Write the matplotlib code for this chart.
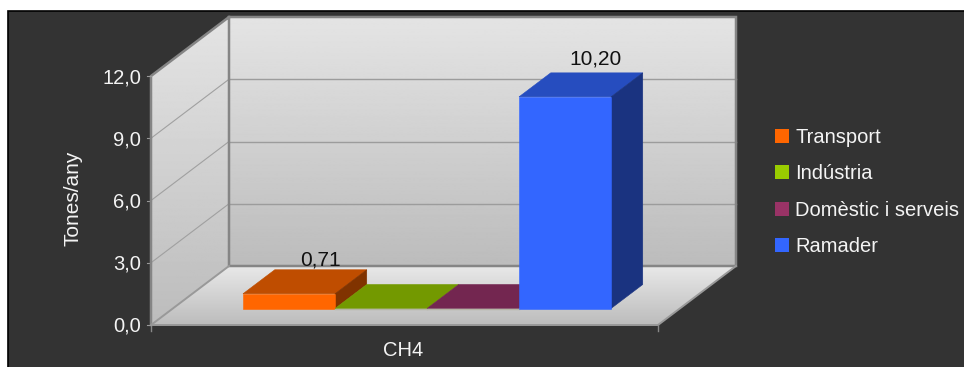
from matplotlib import pyplot as plt
from matplotlib.patches import Polygon, Rectangle, Patch
import numpy as np

plt.rcParams['font.family'] = ['Liberation Sans', 'DejaVu Sans']

categories = ['Transport', 'Indústria', 'Domèstic i serveis', 'Ramader']
values = [0.71, 0.0, 0.0, 10.20]
value_labels = ['0,71', None, None, '10,20']
y_ticks = [0, 3, 6, 9, 12]
y_tick_labels = ['0,0', '3,0', '6,0', '9,0', '12,0']
front_colors = ['#ff6600', '#99cc00', '#993366', '#3366ff']
top_colors = ['#bf4d00', '#739900', '#732650', '#264dbf']
side_colors = ['#803300', '#4d6600', '#4d1a33', '#1a3380']

# fake 3d: depth d goes 0 (front) to 1 (back wall)
W, H = 964, 367
SLOT = 92.0
UNIT = 20.75
X0 = 221.2
Y0 = 325.0
DX = 78 / SLOT
DY = 59 / UNIT
x_left = (151 - X0) / SLOT
x_right = (658 - X0) / SLOT
bar_d0 = 16.5 / 59
bar_d1 = 40.5 / 59
TEXT = '#f4f4f4'


def proj(x, v, d):
    return (x + d * DX, v + d * DY)


def gradient(ax, pts, top, bottom, z):
    pts = np.array(pts)
    grad = np.linspace(top, bottom, 256).reshape(-1, 1)
    ext = [pts[:, 0].min(), pts[:, 0].max(), pts[:, 1].min(), pts[:, 1].max()]
    im = ax.imshow(grad, cmap='gray', vmin=0, vmax=255, extent=ext, aspect='auto', zorder=z)
    clip = Polygon(pts, closed=True, transform=ax.transData, fc='none', ec='none')
    ax.add_patch(clip)
    im.set_clip_path(clip)


fig = plt.figure(figsize=(W / 100, H / 100), dpi=100, facecolor='white')
ax = fig.add_axes([0, 0, 1, 1])
ax.axis('off')

xlim = (-X0 / SLOT, (W - X0) / SLOT)
ylim = (-(H - Y0) / UNIT, Y0 / UNIT)

# dark panel, positions in figure fractions
fig.patches.append(Rectangle((8 / W, -0.05), (W + 20) / W, (H - 11) / H + 0.05, transform=fig.transFigure,
                             fc='#333333', ec='black', lw=1.2, zorder=-1))

# walls and floor
back = [proj(x_left, 0, 1), proj(x_right, 0, 1), proj(x_right, 12, 1), proj(x_left, 12, 1)]
left = [proj(x_left, 0, 0), proj(x_left, 0, 1), proj(x_left, 12, 1), proj(x_left, 12, 0)]
floor = [proj(x_left, 0, 0), proj(x_right, 0, 0), proj(x_right, 0, 1), proj(x_left, 0, 1)]
gradient(ax, back, 228, 188, 1)
gradient(ax, left, 228, 188, 1)
gradient(ax, floor, 232, 188, 1)

# grid
for t in y_ticks[1:-1]:
    ax.plot(*zip(proj(x_left, t, 0), proj(x_left, t, 1)), color='#a0a0a0', lw=0.8, zorder=2)
    ax.plot(*zip(proj(x_left, t, 1), proj(x_right, t, 1)), color='#9c9c9c', lw=1.0, zorder=2)
    ax.plot([x_left - 4 / SLOT, x_left], [t, t], color='#999999', lw=0.8, zorder=2)

# frame
edge = '#858585'
x, y = zip(proj(x_left, 0, 0), proj(x_left, 12, 0), proj(x_left, 12, 1), proj(x_right, 12, 1),
           proj(x_right, 0, 1), proj(x_left, 0, 1), proj(x_left, 12, 1))
ax.plot(x, y, color=edge, lw=1.8, zorder=3, solid_joinstyle='miter')
x, y = zip(proj(x_left, 0, 1), proj(x_left, 0, 0), proj(x_right, 0, 0), proj(x_right, 0, 1))
ax.plot(x, y, color='#999999', lw=1.4, zorder=3)
for xt in (x_left, x_right):
    ax.plot([xt, xt], [0, -6 / UNIT], color='#888888', lw=1, zorder=3)
for v in (0, 12):
    ax.plot([x_left - 4 / SLOT, x_left], [v, v], color='#999999', lw=0.8, zorder=3)

# bars
for i, v in enumerate(values):
    l, r = i, i + 1
    z = 4 + i
    top = [proj(l, v, bar_d0), proj(r, v, bar_d0), proj(r, v, bar_d1), proj(l, v, bar_d1)]
    ax.add_patch(Polygon(top, closed=True, fc=top_colors[i], ec=top_colors[i], lw=0.4, zorder=z))
    if v > 0:
        side = [proj(r, 0, bar_d0), proj(r, 0, bar_d1), proj(r, v, bar_d1), proj(r, v, bar_d0)]
        ax.add_patch(Polygon(side, closed=True, fc=side_colors[i], ec=side_colors[i], lw=0.4, zorder=z))
        front = [proj(l, 0, bar_d0), proj(r, 0, bar_d0), proj(r, v, bar_d0), proj(l, v, bar_d0)]
        ax.add_patch(Polygon(front, closed=True, fc=front_colors[i], ec=front_colors[i], lw=0.4, zorder=z))
        lx, ly = proj((l + r) / 2, v, bar_d1)
        off = (-1, 3) if v > 1 else (-0.5, 0)
        ax.annotate(value_labels[i], (lx, ly), xytext=off, textcoords='offset points', ha='center',
                    va='bottom', fontsize=15, color='#111111', zorder=20)
    else:
        ax.plot(*zip(proj(l, 0, bar_d0), proj(r, 0, bar_d0)), color='#b5b5a5', lw=1, zorder=z)

# axis text
for t, lab in zip(y_ticks, y_tick_labels):
    ax.text(x_left - 10 / SLOT, t - 1.5 / UNIT, lab, ha='right', va='center', fontsize=14.5, color=TEXT)
ax.text(403 / SLOT - X0 / SLOT, -25 / UNIT, 'CH4', ha='center', va='center', fontsize=14.5, color=TEXT)
ax.text((73 - X0) / SLOT, (Y0 - 198) / UNIT, 'Tones/any', rotation=90, ha='center', va='center',
        fontsize=15, color=TEXT)

handles = [Patch(fc=c, ec='none') for c in front_colors]
ax.legend(handles, categories, loc='center left', bbox_to_anchor=(771 / W, 1 - 192 / H), frameon=False,
          bbox_transform=fig.transFigure, fontsize=14.5, labelcolor=TEXT, handlelength=0.7,
          handleheight=0.7, handletextpad=0.3, labelspacing=0.865, borderpad=0.2, borderaxespad=0)

ax.set_xlim(*xlim)
ax.set_ylim(*ylim)
plt.savefig('out.png', dpi=100)
